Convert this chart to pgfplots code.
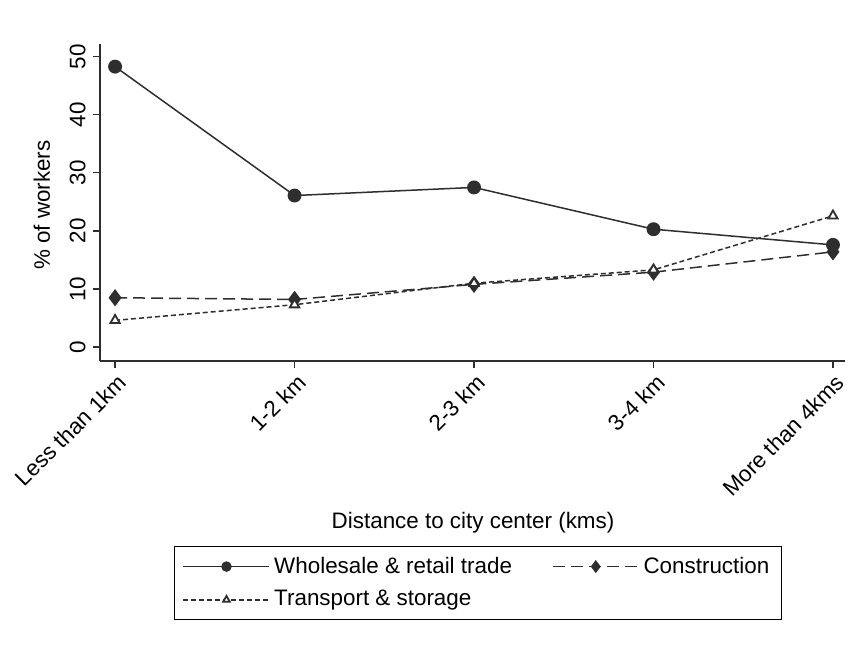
\documentclass[border=0pt]{standalone}
\usepackage{pgfplots}
\pgfplotsset{compat=1.18}
\usepackage{fontspec}
\setmainfont{Liberation Sans}
\definecolor{sg}{HTML}{2E2E2E}
\begin{document}
\fontsize{11.2}{13.4}\selectfont
\begin{tikzpicture}
\path[use as bounding box] (-50pt,-141.5pt) rectangle (377pt,180.5pt);
\begin{axis}[
  scale only axis,
  width=372.5pt, height=158.5pt,
  axis lines*=left,
  axis line style={sg, line width=0.6pt},
  xmin=-0.084, xmax=4.067,
  ymin=-2.4, ymax=52.2,
  xtick={0,1,2,3,4},
  xticklabels={Less than 1km,1-2 km,2-3 km,3-4 km,More than 4kms},
  ytick={0,10,20,30,40,50},
  tick align=outside,
  major tick length=3.5pt,
  tick style={sg, line width=0.6pt},
  /pgf/number format/assume math mode=true,
  xticklabel style={rotate=45, anchor=north east, inner sep=1pt, yshift=-1pt},
  yticklabel style={rotate=90, anchor=south, inner sep=3.5pt},
  xlabel={Distance to city center (kms)},
  ylabel={\% of workers},
  xlabel style={at={(0.5007,-0.511)}, anchor=center},
  ylabel style={at={(-0.0779,0.492)}, anchor=center},
  legend columns=2,
  legend cell align=left,
  legend style={at={(0.5074,-0.7003)}, anchor=center, draw=black, line width=0.6pt,
    /tikz/every even column/.append style={column sep=18pt},
    row sep=3pt, inner xsep=4pt, inner ysep=3pt},
  legend image code/.code={\draw[mark repeat=2,mark phase=2,#1,/tikz/every mark/.append style={scale=0.72}] plot coordinates {(0pt,0pt) (21.5pt,0pt) (43pt,0pt)};},
]
\addplot[sg, line width=0.75pt, mark=*, mark size=3.1pt, mark options={solid, fill=sg}]
  coordinates {(0,48.3) (1,26.1) (2,27.5) (3,20.3) (4,17.6)};
\addlegendentry{Wholesale \& retail trade}
\addplot[sg, line width=0.75pt, dash pattern=on 6pt off 3pt, mark=diamond*, mark size=3.7pt, mark options={solid, fill=sg}]
  coordinates {(0,8.5) (1,8.2) (2,10.8) (3,12.9) (4,16.4)};
\addlegendentry{Construction}
\addplot[sg, line width=0.75pt, dash pattern=on 2.5pt off 1.5pt, mark=triangle*, mark size=2.7pt, mark options={solid, fill=white, line width=0.9pt}]
  coordinates {(0,4.6) (1,7.3) (2,11.0) (3,13.3) (4,22.6)};
\addlegendentry{Transport \& storage}
\end{axis}
\end{tikzpicture}
\end{document}
